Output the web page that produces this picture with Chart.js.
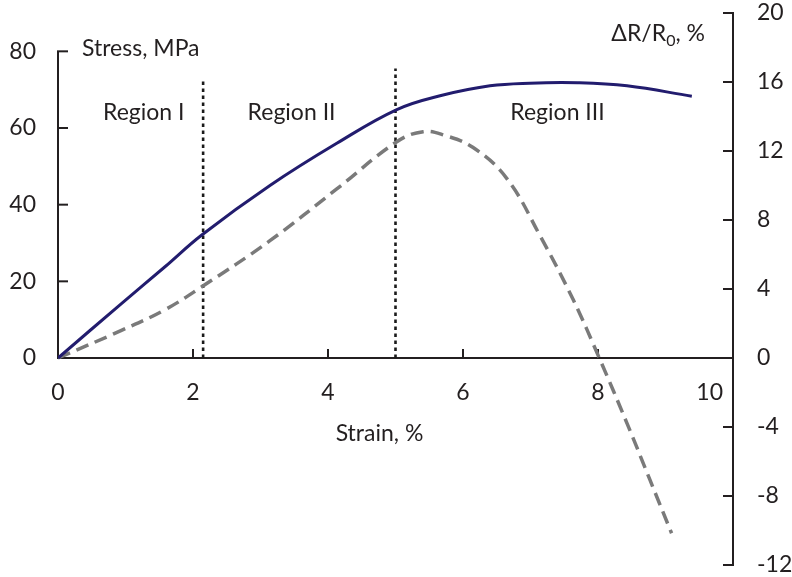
<!DOCTYPE html>
<html>
<head>
<meta charset="utf-8">
<script src="https://cdn.jsdelivr.net/npm/chart.js@4"></script>
<style>
html,body{margin:0;padding:0;background:#fff;}
#wrap{width:792px;height:577px;}
</style>
</head>
<body>
<div id="wrap"><canvas id="c" width="792" height="577"></canvas></div>
<script>
// ---- data ----
const stressStrain = [0, 0.94, 1.585, 2.13, 3.14, 4.13, 5.02, 5.66, 6.4, 6.99, 7.7, 8.43, 9.39];
const stressValues = [0, 14.2, 23.8, 32.1, 45.0, 56.0, 64.8, 68.4, 71.0, 71.7, 71.8, 71.0, 68.3];
const drStrain = [0, 0.94, 1.585, 2.13, 3.14, 4.13, 5.02, 5.41, 5.71, 6.15, 6.65, 7.14, 7.63, 8.03, 8.43, 8.77, 9.09];
const drValues = [0, 1.6, 2.8, 4.13, 6.8, 9.8, 12.54, 13.12, 12.93, 12.2, 10.4, 7.1, 3.4, -0.1, -3.79, -7.07, -10.16];
const regionBounds = [2.15, 5.0];
const regionTops = [73, 75.5];
const regionLabels = ["Region I", "Region II", "Region III"];
const regionLabelX = [1.27, 3.46, 7.4];
const regionLabelY = 64;
const xTicks = [0, 2, 4, 6, 8, 10];
const yLeftTicks = [0, 20, 40, 60, 80];
const yRightTicks = [-12, -8, -4, 0, 4, 8, 12, 16, 20];

const FONT = "Lato, 'Open Sans', sans-serif";
const AX = '#231f20';
const TXT = '#231f20';

function pts(xs, ys){ return xs.map((x,i)=>({x:x, y:ys[i]})); }

const boundaryDatasets = regionBounds.map((b,i)=>({
  data:[{x:b,y:0},{x:b,y:regionTops[i]}],
  yAxisID:'yL', showLine:true, borderColor:'#1a1a1a', borderWidth:2.6,
  borderDash:[3.5,3.5], pointRadius:0, fill:false, tension:0
}));

const axesPlugin = {
  id:'axesPlugin',
  beforeDatasetsDraw(chart){
    const ctx = chart.ctx;
    const x = chart.scales.x, yL = chart.scales.yL, yR = chart.scales.yR;
    ctx.save();
    ctx.strokeStyle = AX; ctx.lineWidth = 2; ctx.lineCap='butt';
    const y0 = yL.getPixelForValue(0);
    const xl = x.getPixelForValue(0), xr = x.getPixelForValue(10);
    ctx.beginPath(); ctx.moveTo(xl, y0); ctx.lineTo(xr, y0); ctx.stroke();
    xTicks.forEach(t=>{ const px = x.getPixelForValue(t);
      ctx.beginPath(); ctx.moveTo(px, y0); ctx.lineTo(px, y0-9); ctx.stroke(); });
    const yTop = yL.getPixelForValue(80);
    ctx.beginPath(); ctx.moveTo(xl, y0+1); ctx.lineTo(xl, yTop); ctx.stroke();
    yLeftTicks.forEach(t=>{ const py = yL.getPixelForValue(t);
      ctx.beginPath(); ctx.moveTo(xl-1, py); ctx.lineTo(xl+10, py); ctx.stroke(); });
    const rt = yR.getPixelForValue(20), rb = yR.getPixelForValue(-12);
    ctx.beginPath(); ctx.moveTo(xr, rt); ctx.lineTo(xr, rb); ctx.stroke();
    yRightTicks.forEach(t=>{ const py = yR.getPixelForValue(t);
      ctx.beginPath(); ctx.moveTo(xr+1, py); ctx.lineTo(xr-10, py); ctx.stroke(); });
    ctx.restore();
  },
  afterDraw(chart){
    const ctx = chart.ctx;
    const x = chart.scales.x, yL = chart.scales.yL, yR = chart.scales.yR;
    const F = '23px ' + FONT, FS = '16px ' + FONT;
    ctx.save();
    ctx.fillStyle = TXT;
    ctx.font = F;
    ctx.textBaseline = 'middle';
    const y0 = yL.getPixelForValue(0);
    xTicks.forEach((t,i)=>{
      const px = x.getPixelForValue(t);
      if (i === xTicks.length-1){ ctx.textAlign='right'; ctx.fillText(String(t), px-10, y0+35); }
      else { ctx.textAlign='center'; ctx.fillText(String(t), px, y0+35); }
    });
    ctx.textAlign='right';
    yLeftTicks.forEach(t=>{ ctx.fillText(String(t), x.getPixelForValue(0)-22, yL.getPixelForValue(t)); });
    ctx.textAlign='left';
    yRightTicks.forEach(t=>{ ctx.fillText(String(t), x.getPixelForValue(10)+24, yR.getPixelForValue(t)); });
    ctx.textAlign='center';
    ctx.fillText('Strain, %', (x.getPixelForValue(0)+x.getPixelForValue(10))/2 - 16, y0+76);
    ctx.textAlign='left';
    ctx.fillText('Stress, MPa', x.getPixelForValue(0)+24, yL.getPixelForValue(80)-3);
    const part1 = 'ΔR/R', sub = '0', part2 = ', %';
    ctx.font = F;
    const w1 = ctx.measureText(part1).width, w3 = ctx.measureText(part2).width;
    ctx.font = FS;
    const w2 = ctx.measureText(sub).width;
    let sx = x.getPixelForValue(10) - 28 - (w1+w2+w3);
    const ty = yR.getPixelForValue(20) + 21;
    ctx.font = F; ctx.fillText(part1, sx, ty); sx += w1;
    ctx.font = FS; ctx.fillText(sub, sx, ty+7); sx += w2;
    ctx.font = F; ctx.fillText(part2, sx, ty);
    ctx.textAlign='center';
    regionLabels.forEach((l,i)=>{ ctx.fillText(l, x.getPixelForValue(regionLabelX[i]), yL.getPixelForValue(regionLabelY)); });
    ctx.restore();
  }
};

new Chart(document.getElementById('c'), {
  type:'scatter',
  data:{ datasets:[
    { data: pts(stressStrain, stressValues), yAxisID:'yL', showLine:true,
      borderColor:'#221c6e', borderWidth:3, pointRadius:0, tension:0.4, fill:false },
    { data: pts(drStrain, drValues), yAxisID:'yR', showLine:true,
      borderColor:'#7a7a7a', borderWidth:3.5, borderDash:[13,7], pointRadius:0, tension:0.4, fill:false },
    ...boundaryDatasets
  ]},
  options:{
    responsive:false, animation:false,
    layout:{ padding:{ left:58, right:59, top:13, bottom:12 } },
    plugins:{ legend:{display:false}, tooltip:{enabled:false} },
    scales:{
      x:{ type:'linear', min:0, max:10, display:false },
      yL:{ type:'linear', position:'left', min:-54, max:90, display:false },
      yR:{ type:'linear', position:'right', min:-12, max:20, display:false }
    }
  },
  plugins:[axesPlugin]
});
</script>
</body>
</html>
